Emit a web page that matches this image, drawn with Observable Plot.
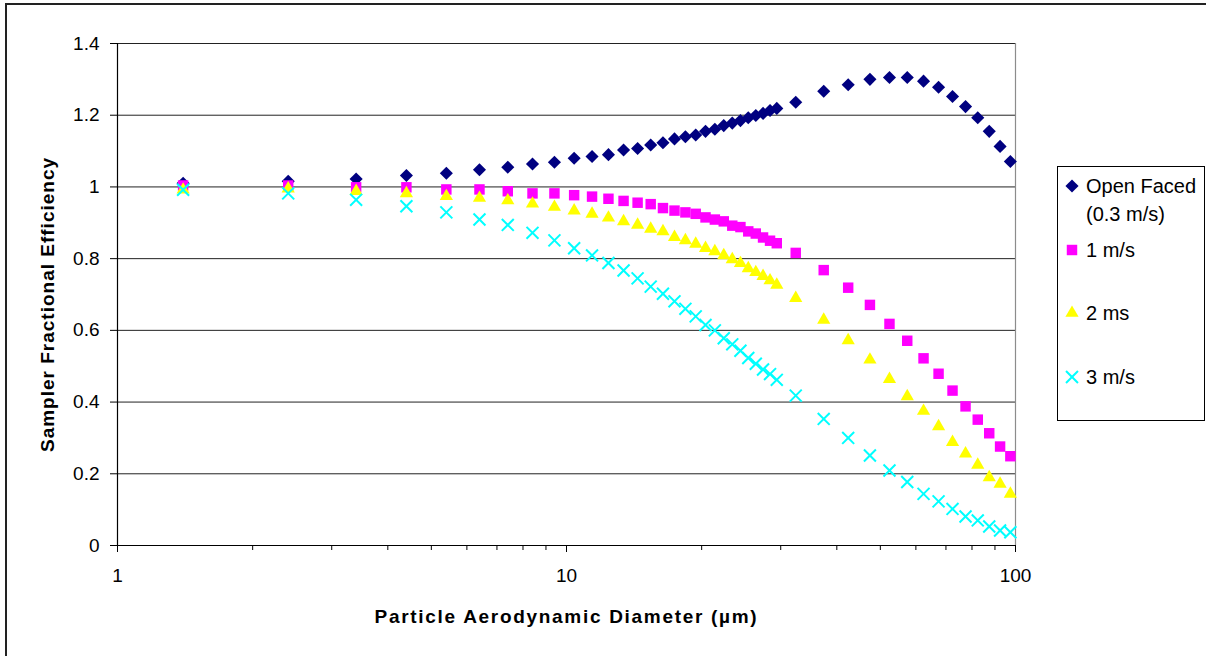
<!DOCTYPE html>
<html><head><meta charset="utf-8">
<script src="https://cdn.jsdelivr.net/npm/d3@7"></script>
<script src="https://cdn.jsdelivr.net/npm/@observablehq/plot@0.6"></script>
<style>
html,body{margin:0;padding:0;background:#fff;overflow:hidden}
#wrap{position:relative;width:1206px;height:656px;overflow:hidden;font-family:"Liberation Sans",Arial,sans-serif;background:#fff}
#frame{position:absolute;left:5px;top:3px;width:1400px;height:900px;border:2px solid #222;box-sizing:border-box}
#chart{position:absolute;left:0;top:0}
#legend{position:absolute;left:1057px;top:166px;width:148px;height:255px;border:1px solid #000;box-sizing:border-box;background:#fff}
.mk{position:absolute;left:6px;width:16px;height:16px;overflow:visible}
.lt{position:absolute;left:28px;font-size:20px;line-height:28px;color:#000;white-space:nowrap}
</style>
</head><body>
<div id="wrap"><div id="frame"></div><div id="chart"></div><div id="legend"></div></div>
<script>
// Particle aerodynamic diameter (µm)
const diameters = [1.4,2.4,3.4,4.4,5.4,6.4,7.4,8.4,9.4,10.4,
  11.4,12.4,13.4,14.4,15.4,16.4,17.4,18.4,19.4,20.4,
  21.4,22.4,23.4,24.4,25.4,26.4,27.4,28.4,29.4,
  32.4,37.4,42.4,47.4,52.4,57.4,62.4,67.4,72.4,77.4,82.4,87.4,92.4,97.4];
const openFaced = [1.010,1.016,1.022,1.032,1.038,1.048,1.055,1.064,1.069,1.080,
  1.085,1.090,1.103,1.107,1.117,1.123,1.134,1.140,1.145,1.155,
  1.161,1.171,1.178,1.185,1.193,1.199,1.205,1.213,1.219,
  1.236,1.267,1.285,1.300,1.305,1.305,1.295,1.278,1.252,1.224,1.193,1.155,1.113,1.071];
const oneMs = [1.004,1.004,0.999,0.999,0.993,0.993,0.988,0.982,0.982,0.977,
  0.973,0.967,0.961,0.956,0.952,0.941,0.934,0.929,0.925,0.915,
  0.909,0.904,0.892,0.888,0.876,0.870,0.859,0.850,0.843,
  0.816,0.768,0.719,0.671,0.618,0.571,0.522,0.479,0.432,0.388,0.351,0.313,0.276,0.249];
const twoMs = [0.992,0.995,0.988,0.982,0.974,0.969,0.962,0.953,0.944,0.934,
  0.925,0.914,0.904,0.894,0.883,0.876,0.860,0.851,0.841,0.829,
  0.820,0.809,0.798,0.787,0.773,0.762,0.751,0.739,0.727,
  0.690,0.629,0.572,0.518,0.464,0.416,0.375,0.332,0.288,0.256,0.225,0.190,0.172,0.144];
const threeMs = [0.992,0.982,0.964,0.946,0.929,0.909,0.894,0.872,0.851,0.829,
  0.809,0.788,0.767,0.745,0.722,0.702,0.681,0.660,0.639,0.615,
  0.600,0.578,0.561,0.543,0.523,0.507,0.491,0.478,0.462,
  0.418,0.353,0.300,0.251,0.209,0.177,0.144,0.123,0.102,0.081,0.070,0.053,0.042,0.037];
const seriesNames = ["Open Faced\n(0.3 m/s)", "1 m/s", "2 ms", "3 m/s"];
const yTicks = [0,0.2,0.4,0.6,0.8,1,1.2,1.4];
const yTickLabels = ["0","0.2","0.4","0.6","0.8","1","1.2","1.4"];
const xTicks = [1,10,100];
const xTickLabels = ["1","10","100"];
const xMinorTicks = [2,3,4,5,6,7,8,9,20,30,40,50,60,70,80,90];
const xTitle = "Particle Aerodynamic Diameter (µm)";
const yTitle = "Sampler Fractional Efficiency";

const styles = [
  {symbol:"diamond2", fill:"#000080", stroke:"none", r:5.9, sw:0, d3s:d3.symbolDiamond2},
  {symbol:"square", fill:"#ff00ff", stroke:"none", r:5.9, sw:0, d3s:d3.symbolSquare},
  {symbol:"triangle", fill:"#ffff00", stroke:"none", r:4.9, sw:0, d3s:d3.symbolTriangle},
  {symbol:"times", fill:"none", stroke:"#00ffff", r:5.5, sw:2, d3s:d3.symbolTimes}
];
const seriesValues = [openFaced, oneMs, twoMs, threeMs];
const rows = seriesValues.flatMap((vals, s) => vals.map((v, i) => ({series: s, d: diameters[i], e: v})));

const dotMarks = styles.map((st, s) => Plot.dot(rows.filter(r => r.series === s), {
  x: "d", y: "e", symbol: st.symbol, r: st.r,
  fill: st.fill, stroke: st.stroke, strokeWidth: st.sw
}));

const chart = Plot.plot({
  width: 1206, height: 656,
  marginLeft: 117, marginRight: 191, marginTop: 43, marginBottom: 111,
  style: {background: "transparent", fontFamily: "'Liberation Sans', Arial, sans-serif", color: "#000", overflow: "visible"},
  x: {type: "log", domain: [1, 100]},
  y: {domain: [0, 1.4]},
  marks: [
    Plot.gridY(yTicks, {stroke: "#222", strokeOpacity: 1, strokeWidth: 1}),
    Plot.ruleX([100], {stroke: "#8c8c8c", strokeWidth: 1.2}),
    Plot.ruleX([1], {stroke: "#000", strokeWidth: 1.2}),
    Plot.ruleY([0], {stroke: "#000", strokeWidth: 1.2}),
    Plot.axisY(yTicks, {tickSize: 7, tickPadding: 11, fontSize: 19, label: null,
      tickFormat: (d) => yTickLabels[yTicks.indexOf(d)]}),
    Plot.axisX(xTicks, {tickSize: 7, tickPadding: 16, fontSize: 19, label: null,
      tickFormat: (d) => xTickLabels[xTicks.indexOf(d)]}),
    Plot.axisX(xMinorTicks, {tickSize: 5, text: null, label: null}),
    Plot.text([xTitle], {frameAnchor: "bottom", dy: 77, fontSize: 19, fontWeight: "bold",
      fill: "#000"}),
    Plot.text([yTitle], {frameAnchor: "left", textAnchor: "middle", dx: -70, dy: 10, rotate: -90, fontSize: 19,
      fontWeight: "bold", fill: "#000"}),
    ...dotMarks
  ]
});
// letter spacing on the titles
d3.select(chart).selectAll("text").filter(function(){ return this.textContent === xTitle; }).style("letter-spacing", "1.7px");
d3.select(chart).selectAll("text").filter(function(){ return this.textContent === yTitle; }).style("letter-spacing", "1px");
document.getElementById("chart").appendChild(chart);

// legend
const legend = d3.select("#legend");
const rowCenters = [19, 83, 146, 210];
styles.forEach((st, s) => {
  const cy = rowCenters[s];
  const svg = legend.append("svg").attr("class", "mk").attr("width", 16).attr("height", 16)
    .style("top", (cy - 8) + "px");
  svg.append("path").attr("transform", "translate(8,8)")
    .attr("d", d3.symbol(st.d3s, Math.PI * st.r * st.r)())
    .attr("fill", st.fill).attr("stroke", st.stroke).attr("stroke-width", st.sw);
  const lines = seriesNames[s].split("\n");
  lines.forEach((t, j) => {
    legend.append("div").attr("class", "lt").style("top", (cy - 14 + j * 28) + "px").text(t);
  });
});
</script>
</body></html>
